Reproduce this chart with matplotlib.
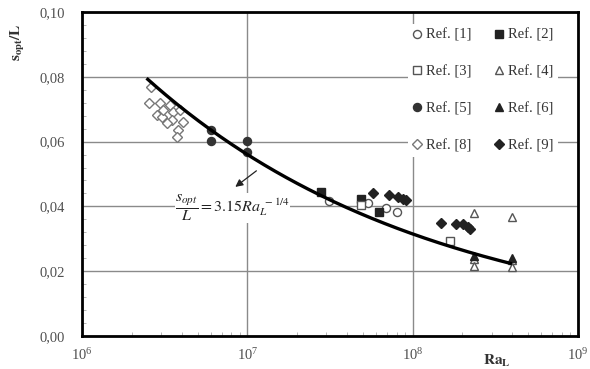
import numpy as np
import matplotlib
matplotlib.use("Agg")
import matplotlib.pyplot as plt
from matplotlib.ticker import FixedLocator, MultipleLocator, FuncFormatter, LogLocator, LogFormatterMathtext

plt.rcParams['font.family'] = ['Liberation Serif', 'DejaVu Serif']
plt.rcParams['mathtext.fontset'] = 'stix'

# ---- data ----
ref1_x = [3.1e7, 5.4e7, 6.9e7, 8.0e7]
ref1_y = [0.0418, 0.0410, 0.0394, 0.0382]
ref2_x = [2.8e7, 4.9e7, 6.3e7]
ref2_y = [0.0444, 0.0422, 0.0384]
ref3_x = [4.9e7, 1.69e8]
ref3_y = [0.0404, 0.0293]
ref4_x = [2.35e8, 4.0e8, 2.35e8, 2.35e8, 4.0e8, 4.0e8]
ref4_y = [0.0379, 0.0368, 0.0237, 0.0216, 0.0235, 0.0212]
ref5_x = [6.0e6, 6.0e6, 1.0e7, 1.0e7]
ref5_y = [0.0636, 0.0602, 0.0602, 0.0568]
ref6_x = [2.35e8, 4.0e8]
ref6_y = [0.0247, 0.0241]
ref8_x = [2.6e6, 2.54e6, 2.96e6, 2.83e6, 3.03e6, 3.4e6, 3.53e6, 3.49e6,
          3.91e6, 4.07e6, 3.8e6, 3.73e6, 3.08e6, 3.27e6]
ref8_y = [0.0770, 0.0719, 0.0719, 0.0682, 0.0677, 0.0713, 0.0692, 0.0667,
          0.0698, 0.0660, 0.0636, 0.0613, 0.0698, 0.0658]
ref9_x = [5.75e7, 7.2e7, 8.15e7, 8.74e7, 9.07e7, 1.49e8, 1.84e8, 2.01e8, 2.16e8, 2.23e8]
ref9_y = [0.0440, 0.0435, 0.0430, 0.0422, 0.0420, 0.0350, 0.0346, 0.0345, 0.0337, 0.0329]

fit_coef = 3.15
fit_exp = -0.25
fit_range = [2.5e6, 3.9e8]

y_ticks = [0.00, 0.02, 0.04, 0.06, 0.08, 0.10]

# ---- figure ----
fig = plt.figure(figsize=(5.9, 3.69), dpi=100)
ax = fig.add_axes([82/590, 1-336/369, (578-82)/590, (336-12)/369])

ax.set_xscale('log')
ax.set_xlim(1e6, 1e9)
ax.set_ylim(0, 0.10)

grid_c = '#8a8a8a'
ax.set_axisbelow(True)
ax.grid(True, which='major', color=grid_c, lw=1.0)

dark = '#222222'
gray = '#555555'
lgray = '#777777'
ms = 5.8

series = [
    ('Ref. [1]', ref1_x, ref1_y, 'o', 'white', gray),
    ('Ref. [2]', ref2_x, ref2_y, 's', dark, dark),
    ('Ref. [3]', ref3_x, ref3_y, 's', 'white', gray),
    ('Ref. [4]', ref4_x, ref4_y, '^', 'white', gray),
    ('Ref. [5]', ref5_x, ref5_y, 'o', '#333333', '#333333'),
    ('Ref. [6]', ref6_x, ref6_y, '^', dark, dark),
    ('Ref. [8]', ref8_x, ref8_y, 'D', 'white', lgray),
    ('Ref. [9]', ref9_x, ref9_y, 'D', dark, dark),
]
handles = {}
for lab, xs, ys, m, fc, ec in series:
    s = ms * (0.82 if m == 'D' else 1.0)
    h = ax.plot(xs, ys, ls='none', marker=m, ms=s, mfc=fc, mec=ec, mew=1.0, zorder=3)[0]
    handles[lab] = h

xf = np.logspace(np.log10(fit_range[0]), np.log10(fit_range[1]), 200)
ax.plot(xf, fit_coef * xf ** fit_exp, color='black', lw=2.4, zorder=4)

order = ['Ref. [1]', 'Ref. [3]', 'Ref. [5]', 'Ref. [8]',
         'Ref. [2]', 'Ref. [4]', 'Ref. [6]', 'Ref. [9]']
leg = ax.legend([handles[k] for k in order], order, ncol=2,
                loc='upper left', bbox_to_anchor=(0.658, 0.963),
                frameon=True, facecolor='white', edgecolor='none', framealpha=1,
                fontsize=10.5, handlelength=0.6, handletextpad=0.3,
                columnspacing=1.6, labelspacing=1.62, borderpad=0.3,
                borderaxespad=0)
for t in leg.get_texts():
    t.set_color('#333333')

# annotation
ax.text(3.65e6, 0.0395, r'$\dfrac{s_{opt}}{L}=3.15Ra_L^{\ -1/4}$', fontsize=11.5,
        ha='left', va='center', color='#222222', zorder=2,
        bbox=dict(facecolor='white', edgecolor='none', pad=0))
ax.annotate('', xy=(8.2e6, 0.0455), xytext=(1.17e7, 0.0515),
            arrowprops=dict(arrowstyle='-|>', color='#222222', lw=0.9,
                            mutation_scale=11), zorder=6)

# ticks
ax.yaxis.set_major_locator(FixedLocator(y_ticks))
ax.yaxis.set_minor_locator(MultipleLocator(0.004))
ax.yaxis.set_major_formatter(FuncFormatter(lambda v, p: f'{v:.2f}'.replace('.', ',')))
ax.xaxis.set_major_locator(LogLocator(base=10, numticks=10))
ax.xaxis.set_minor_locator(LogLocator(base=10, subs=np.arange(2, 10), numticks=10))
ax.xaxis.set_major_formatter(LogFormatterMathtext())
ax.tick_params(which='both', direction='in', colors='#aaaaaa', labelcolor='#505050',
               labelsize=10.5)
ax.tick_params(which='major', length=0, pad=12)
ax.tick_params(axis='x', which='major', pad=8)
ax.tick_params(which='minor', length=3, width=0.6)

for s in ax.spines.values():
    s.set_color('black')
    s.set_linewidth(2.0)

fig.text(18/590, 1-42/369, r'$\mathbf{s_{opt}/L}$', rotation=90, ha='center', va='center',
         fontsize=11, color='#333333')
fig.text(497/590, 1-361/369, r'$\mathbf{Ra_L}$', ha='center', va='center',
         fontsize=11, color='#333333')

fig.savefig('out.png', dpi=100)
